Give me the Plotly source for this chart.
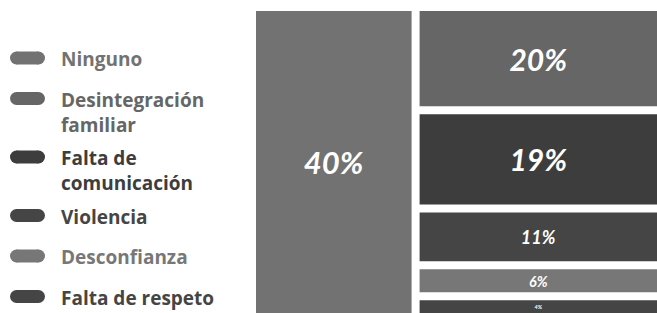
import plotly.graph_objects as go

categories = ["Ninguno", "Desintegración familiar", "Falta de comunicación",
              "Violencia", "Desconfianza", "Falta de respeto"]
legend_labels = ["Ninguno", "Desintegración<br>familiar", "Falta de<br>comunicación",
                 "Violencia", "Desconfianza", "Falta de respeto"]
values = [40, 20, 19, 11, 6, 4]
colors = ["#727272", "#666666", "#3d3d3d", "#454545", "#777777", "#454545"]
text_sizes = [31, 30, 30, 18, 16, 16]

fig = go.Figure()

# ---- treemap: first category alone, the rest stacked in a second column ----
group_id = "otros"
ids = [categories[0], group_id] + categories[1:]
parents = ["", ""] + [group_id] * (len(categories) - 1)
tm_values = [values[0], sum(values[1:])] + values[1:]
tm_text = [f"{values[0]}%", ""] + [f"{v}%" for v in values[1:]]
tm_colors = [colors[0], "#ffffff"] + colors[1:]
tm_sizes = [text_sizes[0], 10] + text_sizes[1:]

fig.add_trace(go.Treemap(
    ids=ids, labels=ids, parents=parents, values=tm_values,
    branchvalues="total", sort=False,
    text=tm_text, textinfo="text", textposition="middle center",
    textfont=dict(family="Lato", size=tm_sizes, color="#ffffff", style="italic", weight="bold"),
    marker=dict(colors=tm_colors, line=dict(width=0),
                pad=dict(t=0, l=0, r=0, b=0)),
    tiling=dict(packing="slice-dice", pad=8),
    pathbar=dict(visible=False),
    domain=dict(x=[256 / 657, 1.0], y=[0.0, 1 - 11 / 313]),
    hoverinfo="skip",
))

# ---- legend built from the categories ----
lines = [lbl.count("<br>") + 1 for lbl in legend_labels]
ys = []
y = 58
for n in lines:
    ys.append(y)
    y += 40.5 + 18 * (n - 1)

for i, cat in enumerate(categories):
    fig.add_trace(go.Scatter(
        x=[16.5, 38.5], y=[ys[i], ys[i]], mode="lines+markers",
        line=dict(color=colors[i], width=13),
        marker=dict(color=colors[i], size=13, line=dict(width=0)),
        showlegend=False, hoverinfo="skip", xaxis="x", yaxis="y",
    ))
    fig.add_annotation(
        x=59, y=ys[i] - 14, xref="x", yref="y", text=legend_labels[i],
        xanchor="left", yanchor="top", align="left", showarrow=False,
        font=dict(family="Open Sans", size=19, color=colors[i], weight="bold"),
    )

fig.update_layout(
    width=657, height=313,
    margin=dict(l=0, r=0, t=0, b=0),
    paper_bgcolor="#ffffff", plot_bgcolor="#ffffff",
    showlegend=False,
    xaxis=dict(domain=[0, 243 / 657], range=[0, 243], visible=False, fixedrange=True),
    yaxis=dict(domain=[0, 1], range=[313, 0], visible=False, fixedrange=True),
)

fig.write_html("out.html", config={"displayModeBar": False},
               post_script="document.body.style.margin='0';")
